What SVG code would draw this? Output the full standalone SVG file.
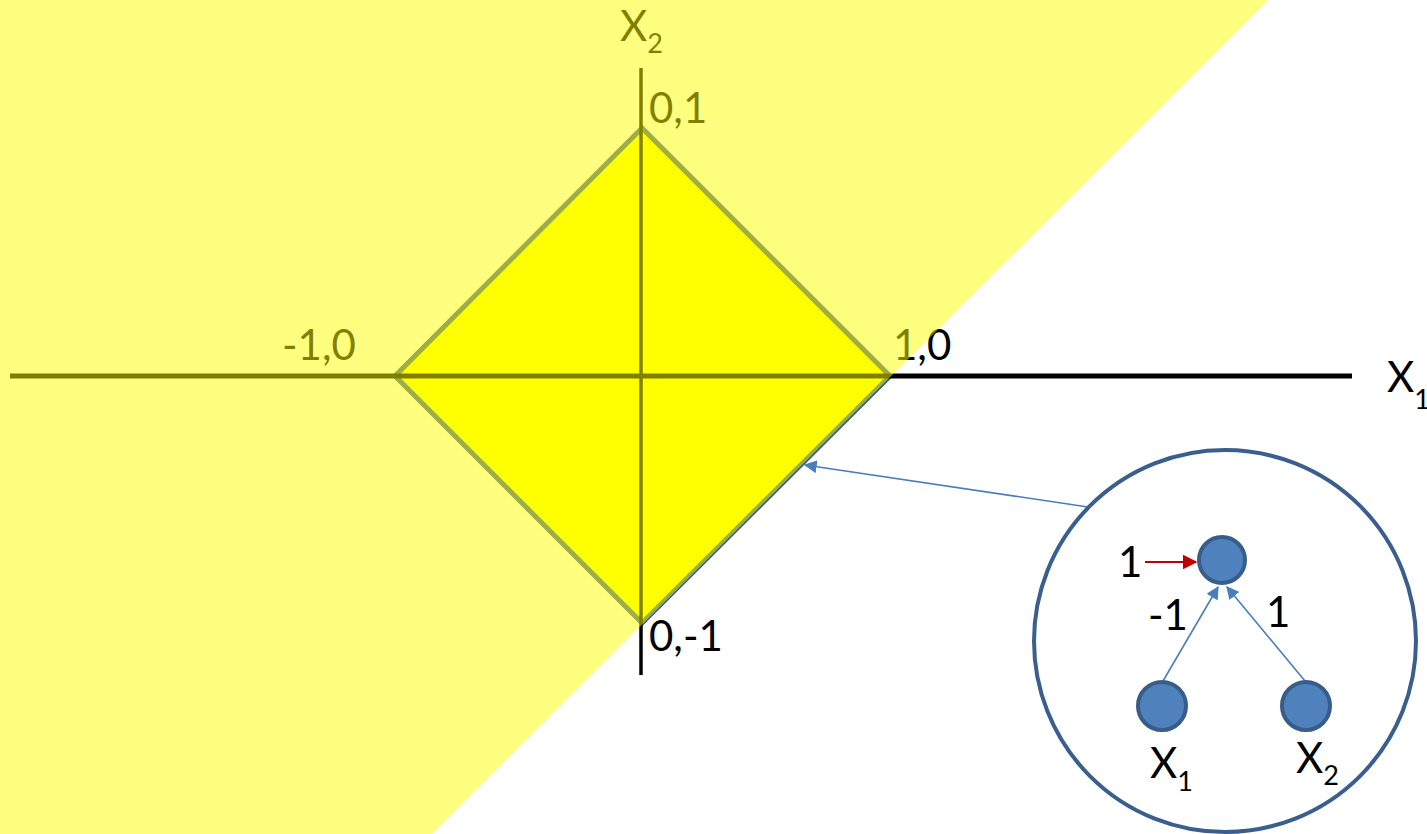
<svg xmlns="http://www.w3.org/2000/svg" width="1427" height="834" viewBox="0 0 1427 834">
<style>
text{font-family:Lato,"Liberation Sans",sans-serif;fill:#000}
.lbl{font-size:42px}
.sub{font-size:27px}
.node{fill:#4F81BD;stroke:#385D8A;stroke-width:4}
.edge{stroke:#4A7EBB;stroke-width:1.6;fill:none}
</style>
<defs>
<marker id="ab2" viewBox="0 0 10 10" refX="9" refY="5" markerWidth="13" markerHeight="13" markerUnits="userSpaceOnUse" orient="auto"><path d="M0,0L10,5L0,10z" fill="#4A7EBB"/></marker>
<marker id="ar" viewBox="0 0 10 10" refX="9" refY="5" markerWidth="15" markerHeight="15" markerUnits="userSpaceOnUse" orient="auto"><path d="M0,0L10,5L0,10z" fill="#C00000"/></marker>
</defs>
<rect width="1427" height="834" fill="#fff"/>
<g id="diamond">
<polygon points="642,128 890,376 642,623 395,376" fill="#FFFF00" stroke="#385D8A" stroke-width="5" stroke-linejoin="miter"/>
</g>
<g id="axes">
<line x1="10" y1="376" x2="1352" y2="376" stroke="#000" stroke-width="5"/>
<line x1="641" y1="68" x2="641" y2="675" stroke="#000" stroke-width="3.5"/>
<text x="620" y="41" class="lbl">X<tspan class="sub" dy="12">2</tspan></text>
<text x="1387" y="392" class="lbl">X<tspan class="sub" dy="17">1</tspan></text>
<text x="649" y="123" class="lbl">0,1</text>
<text x="282" y="360" class="lbl">-1,0</text>
<text x="893" y="360" class="lbl">1,0</text>
<text x="649" y="651" class="lbl">0,-1</text>
</g>
<g id="overlay">
<polygon points="0,0 1268,0 432,834 0,834" fill="#FFFF00" fill-opacity="0.5"/>
</g>
<g id="connectors">
<line x1="1088" y1="507" x2="805" y2="465" class="edge" marker-end="url(#ab2)"/>
<line x1="1145" y1="562" x2="1196" y2="562" stroke="#C00000" stroke-width="2" marker-end="url(#ar)"/>
<line x1="1163" y1="681" x2="1218" y2="587" class="edge" marker-end="url(#ab2)"/>
<line x1="1305" y1="681" x2="1227" y2="587" class="edge" marker-end="url(#ab2)"/>
</g>
<g id="zoom-circle">
<circle cx="1225" cy="641" r="191" fill="none" stroke="#3A5F8F" stroke-width="4"/>
</g>
<g id="node-out">
<circle cx="1222" cy="560" r="23" class="node"/>
<text x="1118" y="577" class="lbl">1</text>
</g>
<g id="node-x1">
<circle cx="1162" cy="706" r="24" class="node"/>
<text x="1150" y="778" class="lbl">X<tspan class="sub" dy="13">1</tspan></text>
</g>
<g id="node-x2">
<circle cx="1306" cy="706" r="24" class="node"/>
<text x="1296" y="773" class="lbl">X<tspan class="sub" dy="12">2</tspan></text>
</g>
<g id="weights">
<text x="1148" y="630" class="lbl">-1</text>
<text x="1266" y="627" class="lbl">1</text>
</g>
</svg>
